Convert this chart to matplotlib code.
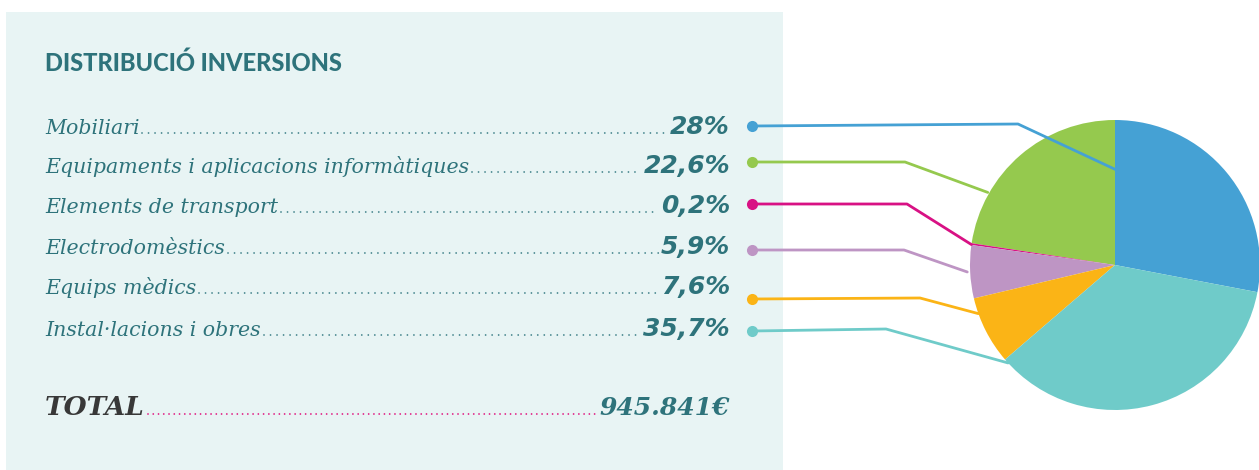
import matplotlib
matplotlib.use("Agg")
import matplotlib.pyplot as plt
from matplotlib.patches import Rectangle
from matplotlib.lines import Line2D
import numpy as np

# ---- data ----
title = "DISTRIBUCIÓ INVERSIONS"
categories = ["Mobiliari",
              "Equipaments i aplicacions informàtiques",
              "Elements de transport",
              "Electrodomèstics",
              "Equips mèdics",
              "Instal·lacions i obres"]
values = [28.0, 22.6, 0.2, 5.9, 7.6, 35.7]
pct_labels = ["28%", "22,6%", "0,2%", "5,9%", "7,6%", "35,7%"]
total_label = "TOTAL"
total_value = "945.841€"

# ---- style ----
colors = ["#45A1D4", "#95C94E", "#D81184", "#BE95C4", "#FBB416", "#6FCBC9"]
teal_text = "#2E737B"
bg = "#E8F4F4"
W, H = 1259, 470


def Y(py):
    return H - py


fig = plt.figure(figsize=(W / 100, H / 100), dpi=100)
ax = fig.add_axes([0, 0, 1, 1])

# background panel
ax.add_patch(Rectangle((6, Y(470)), 777, 458, facecolor=bg, edgecolor="none", zorder=0))

# pie
cx, cy, R = 1115, Y(265), 145
wedges, _ = ax.pie(values, colors=colors, startangle=90 - 3.6 * values[0],
                   counterclock=True, center=(cx, cy), radius=R,
                   wedgeprops=dict(linewidth=0), frame=True)
for w in wedges:
    w.set_zorder(2)
ax.set_xlim(0, W)
ax.set_ylim(0, H)
ax.set_aspect("auto")
ax.axis("off")

# text rows
row_base = [134, 173, 213, 254, 294, 336]
dot_y = [126, 162, 204, 250, 299, 331]
knee_x = [1018, 905, 907, 904, 920, 886]
knee_y = [124, 162, 204, 250, 298, 329]
end_ang = [90, 150.3, 171.9, 182.7, 199.6, 222.5]
end_r = [0.66, 1.01, 1.0, 1.02, 1.0, 1.0]

ax.text(45, Y(71), title, fontsize=17, fontweight="black", color=teal_text,
        family=["Lato", "DejaVu Sans"], va="baseline", ha="left")

lab_texts, pct_texts = [], []
for i, (cat, pl) in enumerate(zip(categories, pct_labels)):
    t = ax.text(45, Y(row_base[i]), cat, fontsize=14.8, style="italic",
                family="DejaVu Serif", color=teal_text, va="baseline", ha="left")
    p = ax.text(730, Y(row_base[i]), pl, fontsize=18, style="italic", fontweight="bold",
                family="DejaVu Sans", color=teal_text, va="baseline", ha="right")
    lab_texts.append(t)
    pct_texts.append(p)

tt = ax.text(45, Y(415), total_label, fontsize=19, style="italic", fontweight="bold",
             family="DejaVu Serif", color="#383838", va="baseline", ha="left")
tv = ax.text(730, Y(415), total_value, fontsize=18, style="italic", fontweight="bold",
             family="DejaVu Serif", color=teal_text, va="baseline", ha="right")

fig.canvas.draw()
r = fig.canvas.get_renderer()
inv = ax.transData.inverted()


def leader(t1, t2, ybase, color, lw=1.3, gap=3.6):
    b1 = t1.get_window_extent(r)
    b2 = t2.get_window_extent(r)
    x0 = inv.transform((b1.x1, 0))[0] + 3
    x1 = inv.transform((b2.x0, 0))[0] - 2
    ln = Line2D([x0, x1], [Y(ybase) + 1.5, Y(ybase) + 1.5], color=color, lw=lw,
                linestyle=(0, (0.01, gap)), dash_capstyle="round", zorder=3)
    ax.add_line(ln)


for i in range(len(categories)):
    leader(lab_texts[i], pct_texts[i], row_base[i], "#3F8189")
leader(tt, tv, 415, "#E0157F", lw=1.3, gap=2.9)

# connectors
for i in range(len(categories)):
    a = np.deg2rad(end_ang[i])
    ex = cx + end_r[i] * R * np.cos(a)
    ey = cy + end_r[i] * R * np.sin(a)
    ax.plot([752, knee_x[i], ex], [Y(dot_y[i]), Y(knee_y[i]), ey], color=colors[i],
            lw=2.0, solid_capstyle="round", zorder=4)
    ax.plot([752], [Y(dot_y[i])], marker="o", ms=8, color=colors[i], mec="none", zorder=5)

fig.savefig("out.png", dpi=100)
